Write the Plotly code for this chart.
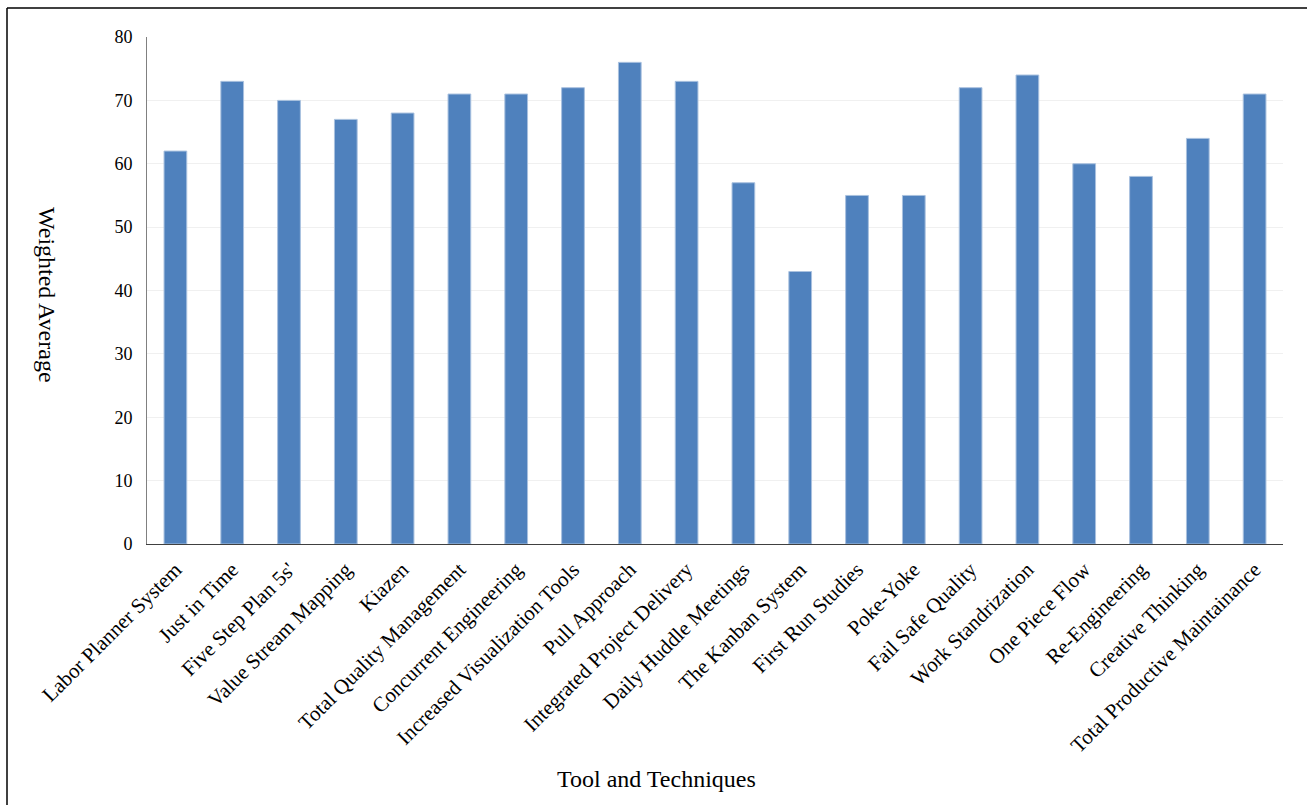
import plotly.graph_objects as go

categories = ["Labor Planner System", "Just in Time", "Five Step Plan 5s'", "Value Stream Mapping",
              "Kiazen", "Total Quality Management", "Concurrent Engineering",
              "Increased Visualization Tools", "Pull Approach", "Integrated Project Delivery",
              "Daily Huddle Meetings", "The Kanban System", "First Run Studies", "Poke-Yoke",
              "Fail Safe Quality", "Work Standrization", "One Piece Flow", "Re-Engineering",
              "Creative Thinking", "Total Productive Maintainance"]
values = [62, 73, 70, 67, 68, 71, 71, 72, 76, 73, 57, 43, 55, 55, 72, 74, 60, 58, 64, 71]
y_ticks = [0, 10, 20, 30, 40, 50, 60, 70, 80]

W, H = 1308, 805
L, R, T, B = 147, 25, 37, 261
pw, ph = W - L - R, H - T - B

def px_x(x):
    return (x - L) / pw

def px_y(y):
    return (H - B - y) / ph

FONT = "Liberation Serif, Times New Roman, serif"

fig = go.Figure(go.Bar(
    x=categories, y=values,
    marker=dict(color="#4F81BD", line=dict(color="#A9C1DF", width=1)),
))

fig.update_layout(
    width=W, height=H,
    margin=dict(l=L, r=R, t=T, b=B),
    paper_bgcolor="white", plot_bgcolor="white",
    bargap=0.6,
    showlegend=False,
    font=dict(family=FONT, size=18, color="black"),
    xaxis=dict(tickangle=-45, showline=True, linecolor="#404040", linewidth=1,
               ticks="", showgrid=False, tickfont=dict(size=21), ticklabelstandoff=4),
    yaxis=dict(range=[0, 80], tickvals=y_ticks, showline=True, linecolor="#808080",
               linewidth=1, ticks="", showgrid=True, gridcolor="#F0F0F0", gridwidth=1,
               zeroline=False, tickfont=dict(size=18), ticklabelstandoff=10),
    annotations=[
        dict(text="Weighted Average", textangle=90, xref="paper", yref="paper",
             x=px_x(47), y=px_y(295), xanchor="center", yanchor="middle",
             showarrow=False, font=dict(size=24, family=FONT)),
        dict(text="Tool and Techniques", xref="paper", yref="paper",
             x=px_x(656), y=px_y(779), xanchor="center", yanchor="middle",
             showarrow=False, font=dict(size=24, family=FONT)),
    ],
    shapes=[
        dict(type="line", xref="paper", yref="paper", x0=px_x(7), x1=px_x(1307),
             y0=px_y(8), y1=px_y(8), line=dict(color="black", width=1.5)),
        dict(type="line", xref="paper", yref="paper", x0=px_x(7), x1=px_x(7),
             y0=px_y(8), y1=px_y(805), line=dict(color="black", width=1.5)),
    ],
)

fig.write_html("out.html")
